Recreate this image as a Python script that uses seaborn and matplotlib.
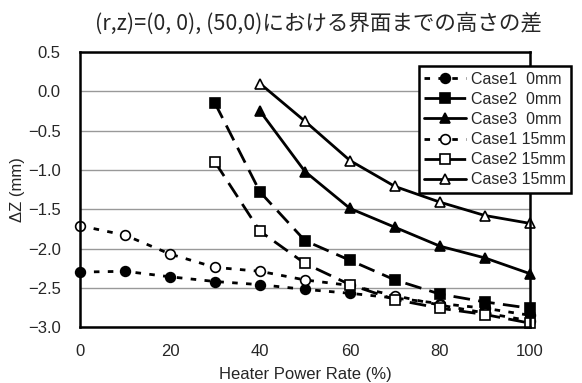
import matplotlib
matplotlib.use("Agg")
import matplotlib.pyplot as plt
import seaborn as sns
import pandas as pd

sns.set_theme(style="white")
plt.rcParams['font.family'] = ['Liberation Sans', 'Noto Sans CJK JP', 'DejaVu Sans']

# Heater power rate (%) and height difference ΔZ (mm)
power_full = [0, 10, 20, 30, 40, 50, 60, 70, 80, 90, 100]
power_30 = [30, 40, 50, 60, 70, 80, 90, 100]
power_40 = [40, 50, 60, 70, 80, 90, 100]

case1_0mm = [-2.30, -2.29, -2.36, -2.42, -2.46, -2.52, -2.57, -2.63, -2.70, -2.76, -2.85]
case2_0mm = [-0.15, -1.28, -1.90, -2.15, -2.40, -2.58, -2.68, -2.76]
case3_0mm = [-0.25, -1.02, -1.49, -1.73, -1.97, -2.12, -2.32]
case1_15mm = [-1.71, -1.83, -2.07, -2.24, -2.29, -2.40, -2.47, -2.60, -2.72, -2.82, -2.92]
case2_15mm = [-0.90, -1.78, -2.19, -2.46, -2.65, -2.76, -2.84, -2.95]
case3_15mm = [0.10, -0.38, -0.88, -1.21, -1.41, -1.58, -1.68]

labels = ["Case1  0mm", "Case2  0mm", "Case3  0mm",
          "Case1 15mm", "Case2 15mm", "Case3 15mm"]
series = [
    (power_full, case1_0mm, "o", "black", (0, (2, 3))),
    (power_30, case2_0mm, "s", "black", (0, (6, 3))),
    (power_40, case3_0mm, "^", "black", "-"),
    (power_full, case1_15mm, "o", "white", (0, (2, 3))),
    (power_30, case2_15mm, "s", "white", (0, (6, 3))),
    (power_40, case3_15mm, "^", "white", "-"),
]

fig = plt.figure(figsize=(5.82, 3.83), dpi=100)
ax = fig.add_axes([0.1375, 0.146, 0.773, 0.718])

for label, (xs, ys, mk, face, ls) in zip(labels, series):
    df = pd.DataFrame({"power": xs, "dz": ys})
    sns.lineplot(data=df, x="power", y="dz", ax=ax, color="black",
                 linewidth=2.0, linestyle=ls, marker=mk, markersize=7,
                 markerfacecolor=face, markeredgecolor="black",
                 markeredgewidth=1.2, label=label, clip_on=False, zorder=3)

ax.set_xlim(0, 100)
ax.set_ylim(-3.0, 0.5)
ax.set_xticks([0, 20, 40, 60, 80, 100])
ax.set_yticks([0.5, 0.0, -0.5, -1.0, -1.5, -2.0, -2.5, -3.0])
ax.set_yticklabels([f"{v:.1f}".replace("-", "\u2212") for v in ax.get_yticks()])
ax.yaxis.grid(True, color="#999999", linewidth=1.0)
ax.xaxis.grid(False)
ax.tick_params(axis="x", direction="in", length=4, width=1, color="black",
               labelsize=12, pad=12)
ax.tick_params(axis="y", length=0, labelsize=12, pad=14)
for sp in ax.spines.values():
    sp.set_color("black")
    sp.set_linewidth(1.8)
    sp.set_zorder(4)

ax.set_xlabel("Heater Power Rate (%)", fontsize=12, labelpad=6)
ax.set_ylabel("\u0394Z (mm)", fontsize=12, labelpad=2)
fig.text(0.547, 0.938, "(r,z)=(0, 0), (50,0)における界面までの高さの差",
         ha="center", va="center", fontsize=15.5,
         family=["Noto Sans CJK JP", "DejaVu Sans"])

leg = ax.legend(loc="upper right", bbox_to_anchor=(0.995, 0.848),
                bbox_transform=fig.transFigure, frameon=True, fancybox=False,
                fontsize=11.5, handlelength=2.6, borderpad=0.35,
                labelspacing=0.32, handletextpad=0.3)
leg.get_frame().set_edgecolor("black")
leg.get_frame().set_linewidth(1.8)
leg.get_frame().set_alpha(1)
leg.set_zorder(5)

fig.savefig("out.png", dpi=100)
